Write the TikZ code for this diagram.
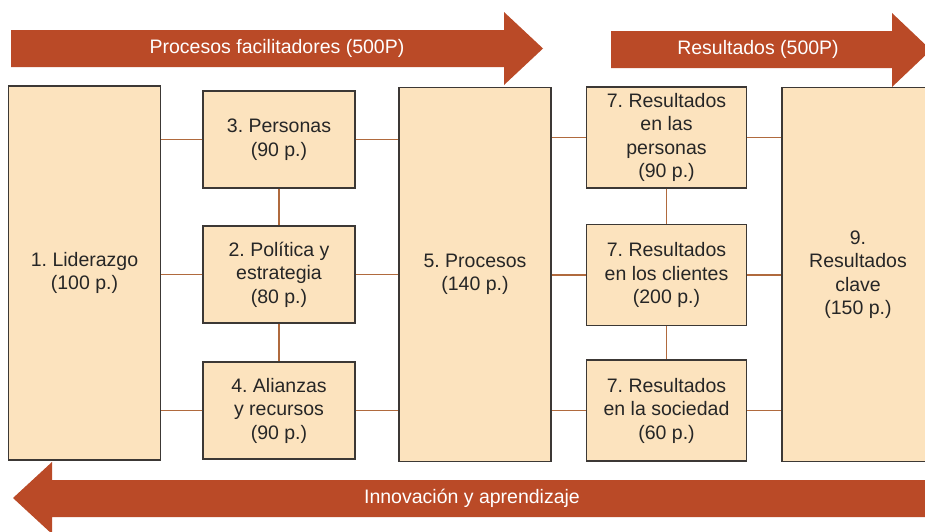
\documentclass[tikz,border=0pt]{standalone}
\usepackage{fontspec}
\setmainfont{Liberation Sans}
\usetikzlibrary{positioning}
\definecolor{flecha}{HTML}{BA4A27}
\definecolor{fondocaja}{HTML}{FCE3BE}
\definecolor{borde}{HTML}{3C3835}
\definecolor{enlace}{HTML}{B06A3E}
\tikzset{>=stealth}
\frenchspacing

\begin{document}
\begin{tikzpicture}[x=1pt,y=-1pt,
    caja/.style={draw=borde, line width=1.4pt, fill=fondocaja, align=center, inner sep=2pt,
      text=black!85, font=\fontsize{19.5}{23.5}\selectfont},
    grande/.style={caja, minimum width=152pt, minimum height=374pt},
    chica/.style={caja, minimum width=152pt, minimum height=97pt},
    resul/.style={caja, minimum width=160pt, minimum height=101pt},
    rotulo/.style={text=white, font=\fontsize{19.5}{23.5}\selectfont},
    linea/.style={draw=enlace, line width=1.3pt}]
  \path[use as bounding box, clip] (0,0) rectangle (925,531);

  \fill[flecha] (11,30) -- (504,30) -- (504,12) -- (543,48.5) -- (504,85) -- (504,67) -- (11,67) -- cycle;
  \node[rotulo] (fac) at (277,48.5) {Procesos facilitadores (500P)};
  \fill[flecha] (611,31) -- (892,31) -- (892,13) -- (931,50) -- (892,87) -- (892,68) -- (611,68) -- cycle;
  \node[rotulo] (res) at (758,49.5) {Resultados (500P)};
  \fill[flecha] (940,480) -- (52,480) -- (52,462) -- (13,498) -- (52,534) -- (52,517) -- (940,517) -- cycle;
  \node[rotulo] (inn) at (472,498.5) {Innovación y aprendizaje};

  \node[grande] (lid) at (84.5,273) {1. Liderazgo\\(100 p.)};
  \node[chica] (per) at (279,139.5) {3. Personas\\(90 p.)};
  \node[chica] (pol) at (279,274.5) {2. Política y\\estrategia\\(80 p.)};
  \node[chica] (ali) at (279,410.5) {4. Alianzas\\y recursos\\(90 p.)};
  \node[grande] (pro) at (475,274.5) {5. Procesos\\(140 p.)};
  \node[resul] (rpe) at (666.5,137.5) {7. Resultados\\en las\\personas\\(90 p.)};
  \node[resul] (rcl) at (666.5,275) {7. Resultados\\en los clientes\\(200 p.)};
  \node[resul] (rso) at (666.5,410.5) {7. Resultados\\en la sociedad\\(60 p.)};
  \node[grande] (rcv) at (858,274.5) {9.\\Resultados\\clave\\(150 p.)};

  \draw[linea] (per.west) -- (per.west -| lid.east);
  \draw[linea] (pol.west) -- (pol.west -| lid.east);
  \draw[linea] (ali.west) -- (ali.west -| lid.east);
  \draw[linea] (per.east) -- (per.east -| pro.west);
  \draw[linea] (pol.east) -- (pol.east -| pro.west);
  \draw[linea] (ali.east) -- (ali.east -| pro.west);
  \draw[linea] (rpe.west) -- (rpe.west -| pro.east);
  \draw[linea] (rcl.west) -- (rcl.west -| pro.east);
  \draw[linea] (rso.west) -- (rso.west -| pro.east);
  \draw[linea] (rpe.east) -- (rpe.east -| rcv.west);
  \draw[linea] (rcl.east) -- (rcl.east -| rcv.west);
  \draw[linea] (rso.east) -- (rso.east -| rcv.west);
  \draw[linea] (per.south) -- (pol.north);
  \draw[linea] (pol.south) -- (ali.north);
  \draw[linea] (rpe.south) -- (rcl.north);
  \draw[linea] (rcl.south) -- (rso.north);
\end{tikzpicture}
\end{document}
